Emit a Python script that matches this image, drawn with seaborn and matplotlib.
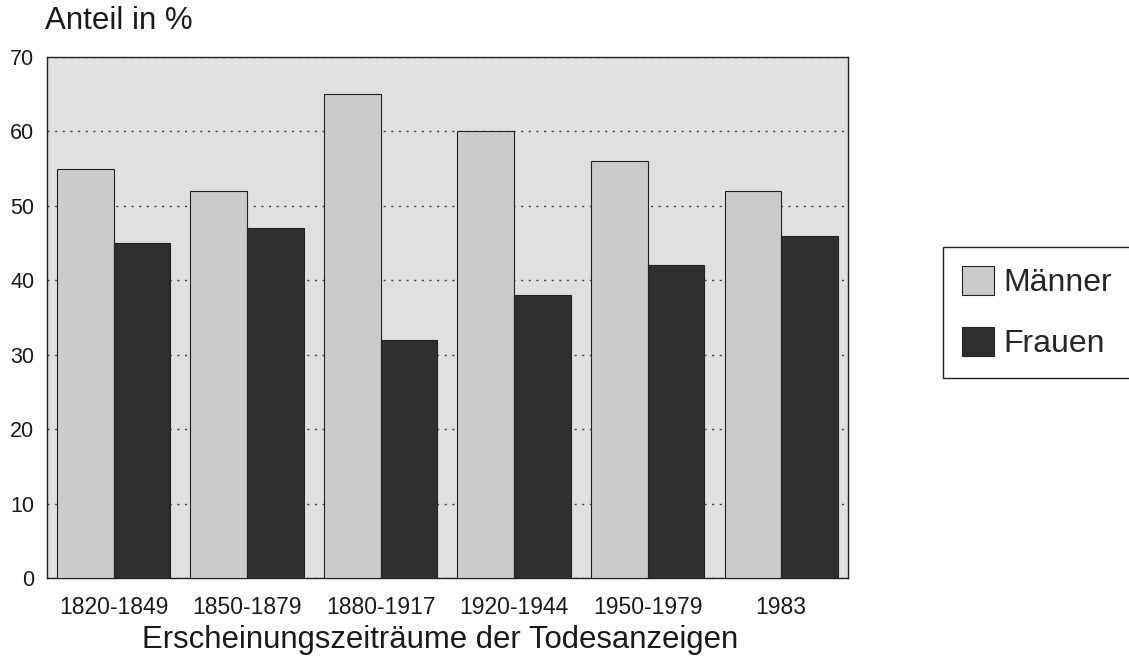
import matplotlib

matplotlib.use("Agg")

import pandas as pd
import seaborn as sns
from matplotlib import pyplot as plt

# Values
zeitraeume = ["1820-1849", "1850-1879", "1880-1917", "1920-1944", "1950-1979", "1983"]
maenner = [55, 52, 65, 60, 56, 52]
frauen = [45, 47, 32, 38, 42, 46]

df = pd.DataFrame(
    {
        "zeitraum": zeitraeume * 2,
        "anteil": maenner + frauen,
        "geschlecht": ["Männer"] * len(maenner) + ["Frauen"] * len(frauen),
    }
)

sns.set_theme(style="white")
plt.rcParams["font.family"] = ["Liberation Sans", "DejaVu Sans"]

fig = plt.figure(figsize=(11.29, 6.67), dpi=100)
ax = fig.add_axes([0.0416, 0.1334, 0.7095, 0.7811])
ax.set_facecolor("#e0e0e0")

sns.barplot(
    ax=ax,
    data=df,
    x="zeitraum",
    y="anteil",
    hue="geschlecht",
    order=zeitraeume,
    hue_order=["Männer", "Frauen"],
    palette={"Männer": "#cbcbcb", "Frauen": "#2f2f2f"},
    width=0.85,
    edgecolor="#222222",
    linewidth=0.8,
    zorder=3,
)

ax.set_ylim(0, 70)
ax.set_xlim(-0.5, len(zeitraeume) - 0.5)
ax.set_yticks(range(0, 71, 10))
ax.yaxis.grid(True, color="#444444", linestyle=(0, (1.5, 4)), linewidth=1.0)
ax.xaxis.grid(False)
ax.set_axisbelow(True)
ax.tick_params(axis="both", length=0, colors="#1a1a1a")
ax.tick_params(axis="x", pad=13, labelsize=16.5)
ax.tick_params(axis="y", pad=9, labelsize=15.5)
for spine in ax.spines.values():
    spine.set_color("#222222")
    spine.set_linewidth(1.0)

ax.set_ylabel("")
ax.set_xlabel("Erscheinungszeiträume der Todesanzeigen", fontsize=22.4, color="#1a1a1a")
ax.xaxis.set_label_coords(0.491, -0.119)
ax.xaxis.label.set_va("center")
fig.text(0.040, 0.968, "Anteil in %", fontsize=22.5, color="#1a1a1a", ha="left", va="center")

handles, labels = ax.get_legend_handles_labels()
ax.legend(
    handles,
    labels,
    loc="upper left",
    bbox_to_anchor=(0.835, 0.630),
    bbox_transform=fig.transFigure,
    borderaxespad=0,
    fontsize=23,
    frameon=True,
    fancybox=False,
    edgecolor="#222222",
    facecolor="white",
    framealpha=1,
    handlelength=1.0,
    handleheight=1.0,
    handletextpad=0.3,
    labelspacing=0.9,
    borderpad=0.6,
    title=None,
)

fig.savefig("out.png", dpi=100)
